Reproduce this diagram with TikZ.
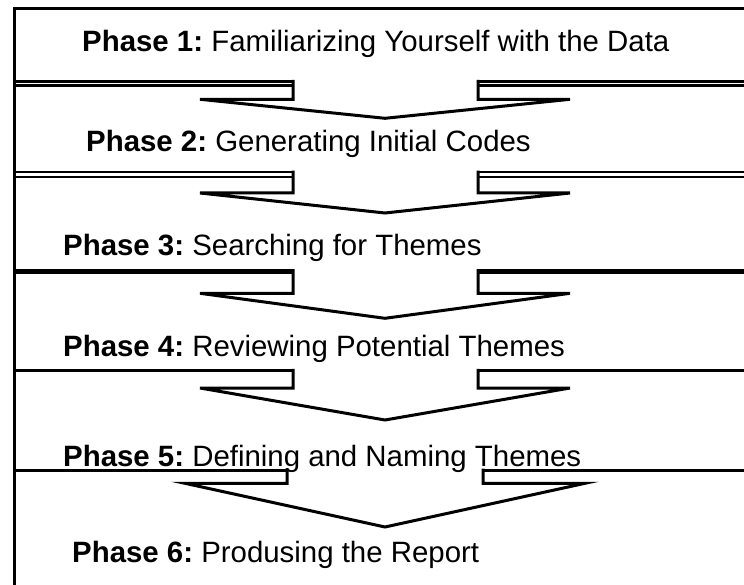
\documentclass[tikz,border=0pt]{standalone}
\usepackage{fontspec}
\setmainfont{Liberation Sans}
\frenchspacing
\tikzset{
  frame/.style={line width=3bp,line join=miter},
  rule/.style={line width=2.6bp},
  flow/.style={line width=3bp,line join=miter},
  phase/.style={anchor=base west,inner sep=0pt,font=\fontsize{29.4bp}{35bp}\selectfont},
}

\begin{document}
\begin{tikzpicture}[x=1bp,y=1bp]
  \useasboundingbox (0,0) rectangle (744,-585);
  % outer frame, open on the right
  \draw[frame] (14,-585) -- (14,-8.5) -- (744,-8.5);
  % phase 1 -> 2
  \draw[rule] (14,-81.3) -- (293,-81.3);
  \draw[rule] (14,-85.3) -- (293,-85.3);
  \draw[rule] (478,-81.3) -- (744,-81.3);
  \draw[rule] (478,-85.3) -- (744,-85.3);
  \draw[flow] (293,-80) -- (293,-99.3) -- (200,-99.3) -- (385,-118.3) -- (570,-99.3) -- (478,-99.3) -- (478,-80);
  % phase 2 -> 3
  \draw[rule] (14,-172) -- (293,-172);
  \draw[rule] (14,-177) -- (293,-177);
  \draw[rule] (478,-172) -- (744,-172);
  \draw[rule] (478,-177) -- (744,-177);
  \draw[flow] (293,-170.7) -- (293,-193) -- (200,-193) -- (385,-213) -- (570,-193) -- (478,-193) -- (478,-170.7);
  % phase 3 -> 4
  \draw[rule,line width=5bp] (14,-271.5) -- (293,-271.5);
  \draw[rule,line width=5bp] (478,-271.5) -- (744,-271.5);
  \draw[flow] (293,-269) -- (293,-293.3) -- (200,-293.3) -- (385,-318.3) -- (570,-293.3) -- (478,-293.3) -- (478,-269);
  % phase 4 -> 5
  \draw[rule,line width=3.5bp] (14,-370.5) -- (293,-370.5);
  \draw[rule,line width=3.5bp] (478,-370.5) -- (744,-370.5);
  \draw[flow] (293,-368.8) -- (293,-388) -- (200,-388) -- (385,-420) -- (570,-388) -- (478,-388) -- (478,-368.8);
  % phase 5 -> 6
  \draw[rule,line width=3.2bp] (14,-470.3) -- (287,-470.3);
  \draw[rule,line width=3.2bp] (483,-470.3) -- (744,-470.3);
  \draw[flow] (287,-468.7) -- (287,-483.3) -- (185,-483.3) -- (385,-527) -- (585,-483.3) -- (483,-483.3) -- (483,-468.7);
  % phase titles
  \node[phase] (ph1) at (82,-52) {\textbf{Phase 1:} Familiarizing Yourself with the Data};
  \node[phase] (ph2) at (86,-152) {\textbf{Phase 2:} Generating Initial Codes};
  \node[phase] (ph3) at (63,-255) {\textbf{Phase 3:} Searching for Themes};
  \node[phase] (ph4) at (63,-356.5) {\textbf{Phase 4:} Reviewing Potential Themes};
  \node[phase] (ph5) at (63,-466) {\textbf{Phase 5:} Defining and Naming Themes};
  \node[phase] (ph6) at (72,-562) {\textbf{Phase 6:} Produsing the Report};
\end{tikzpicture}
\end{document}
